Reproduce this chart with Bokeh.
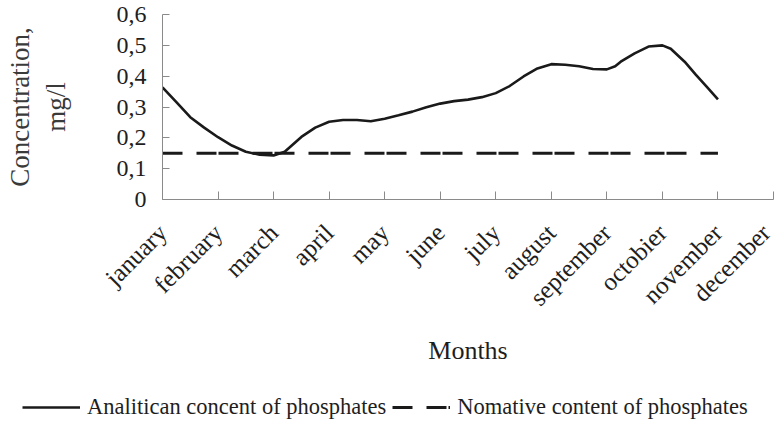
import math
from bokeh.plotting import figure
from bokeh.models import FixedTicker, Legend, LegendItem, Range1d
from bokeh.embed import file_html
from bokeh.resources import INLINE

# ---------------- data ----------------
months = ["january", "february", "march", "april", "may", "june", "july",
          "august", "september", "octobier", "november", "december"]
month_pos = list(range(len(months)))

y_ticks = [0, 0.1, 0.2, 0.3, 0.4, 0.5, 0.6]
y_tick_labels = ["0", "0,1", "0,2", "0,3", "0,4", "0,5", "0,6"]

# analytical concentration of phosphates (month index)
curve_x = [0.00, 0.25, 0.50, 0.75, 1.00, 1.25, 1.50, 1.75, 2.00, 2.20, 2.50,
           2.75, 3.00, 3.25, 3.50, 3.75, 4.00, 4.25, 4.50, 4.75, 5.00, 5.25,
           5.50, 5.75, 6.00, 6.25, 6.50, 6.75, 7.00, 7.25, 7.50, 7.75, 8.00,
           8.15, 8.25, 8.50, 8.75, 9.00, 9.15, 9.40, 9.60, 9.80, 10.00]
curve_y = [0.364, 0.316, 0.267, 0.233, 0.202, 0.175, 0.155, 0.145, 0.143, 0.155, 0.203,
           0.233, 0.252, 0.258, 0.258, 0.254, 0.262, 0.273, 0.285, 0.299, 0.311, 0.319,
           0.324, 0.332, 0.345, 0.368, 0.399, 0.425, 0.439, 0.437, 0.432, 0.423, 0.422,
           0.432, 0.447, 0.474, 0.496, 0.500, 0.489, 0.447, 0.405, 0.365, 0.325]

# normative content of phosphates
norm_x = [0, 10]
norm_y = [0.15, 0.15]

series_names = ["Analitican concent of phosphates", "Nomative content of phosphates"]

# ---------------- styles ----------------
SERIF = "Liberation Serif"
TXT = "#1e1e1e"
AX = "#8a8a8a"
LINE = "#1a1a1a"
SOLID = dict(line_color=LINE, line_width=2.6)
DASHED = dict(line_color=LINE, line_width=3, line_dash="20 2 20 14", line_dash_offset=22)

# ---------------- main chart ----------------
p = figure(width=775, height=380, output_backend="svg", toolbar_location=None,
           x_range=Range1d(0, 11), y_range=Range1d(0, 0.6),
           min_border_left=162, min_border_right=2, min_border_top=14,
           min_border_bottom=181)
p.outline_line_color = None
p.grid.grid_line_color = None
p.background_fill_color = "white"
p.border_fill_color = "white"

p.line(curve_x, curve_y, **SOLID)
p.line(norm_x, norm_y, **DASHED)

for ax in (p.xaxis[0], p.yaxis[0]):
    ax.axis_line_color = AX
    ax.axis_line_width = 1
    ax.major_tick_line_color = AX
    ax.major_tick_out = 0
    ax.minor_tick_line_color = None
    ax.major_label_text_font = SERIF
    ax.major_label_text_color = TXT
    ax.axis_label_text_font = SERIF
    ax.axis_label_text_font_style = "normal"
    ax.axis_label_text_color = TXT

p.xaxis.ticker = FixedTicker(ticks=month_pos)
p.xaxis.major_label_overrides = dict(zip(month_pos, months))
p.xaxis.major_label_orientation = math.pi / 4
p.xaxis.major_label_text_font_size = "25px"
p.xaxis.major_label_standoff = 29
p.xaxis.major_tick_in = 8
p.xaxis.axis_label = "Months"
p.xaxis.axis_label_text_font_size = "26px"
p.xaxis.axis_label_standoff = 13

p.yaxis.ticker = FixedTicker(ticks=y_ticks)
p.yaxis.major_label_overrides = dict(zip(y_ticks, y_tick_labels))
p.yaxis.major_label_text_font_size = "24px"
p.yaxis.major_label_standoff = 16
p.yaxis.major_tick_in = 7
p.yaxis.axis_label = "Concentration,\nmg/l"
p.yaxis.axis_label_text_font_size = "27px"
p.yaxis.axis_label_text_color = "#3a3a3a"
p.yaxis.axis_label_standoff = 43

# ---------------- legend strip (separate root, directly below) ----------------
# the series are drawn again here, outside the visible range, only to give
# the legend its swatches
q = figure(width=775, height=41, output_backend="svg", toolbar_location=None,
           x_axis_location=None, y_axis_location=None,
           min_border=0, x_range=Range1d(0, 11), y_range=Range1d(5, 6))
q.outline_line_color = None
q.grid.grid_line_color = None
q.border_fill_color = "white"
q.background_fill_color = "white"
k1 = q.line(curve_x, curve_y, **SOLID)
k2 = q.line(norm_x, norm_y, **DASHED)

legend = Legend(items=[LegendItem(label=series_names[0], renderers=[k1]),
                       LegendItem(label=series_names[1], renderers=[k2])],
                orientation="horizontal", location=(22, 1),
                glyph_width=58, glyph_height=22, label_height=22,
                label_standoff=7, spacing=6, padding=0, margin=0,
                border_line_color=None, background_fill_alpha=0,
                label_text_font=SERIF, label_text_font_size="22.5px",
                label_text_color=TXT)
q.add_layout(legend)

open("out.html", "w").write(file_html([p, q], INLINE))
